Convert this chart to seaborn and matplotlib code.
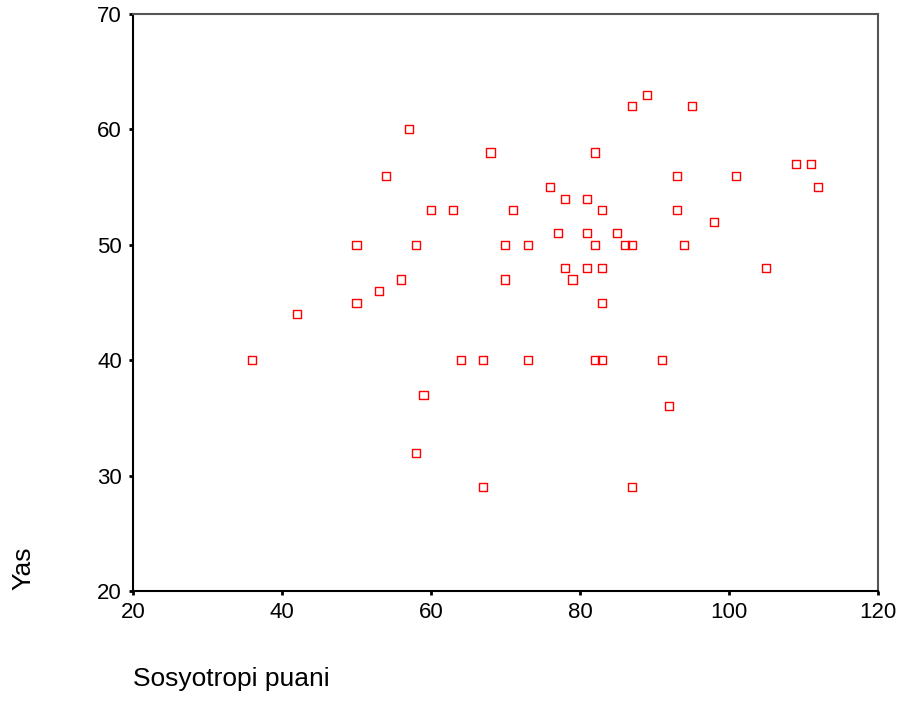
import pandas as pd
import matplotlib.pyplot as plt
import seaborn as sns

# Sosyotropi puani (x) ve Yas (y)
sosyotropi = [36, 42, 50, 50, 53, 54, 56, 57, 58, 58, 59, 60, 63, 64, 67, 67,
              68, 70, 70, 71, 73, 73, 76, 77, 78, 78, 79, 81, 81, 81, 82, 82,
              82, 83, 83, 83, 83, 85, 86, 87, 87, 87, 89, 91, 92, 93, 93, 94,
              95, 98, 101, 105, 109, 111, 112]
yas = [40, 44, 50, 45, 46, 56, 47, 60, 50, 32, 37, 53, 53, 40, 40, 29,
       58, 50, 47, 53, 50, 40, 55, 51, 54, 48, 47, 54, 51, 48, 58, 50,
       40, 53, 48, 45, 40, 51, 50, 50, 62, 29, 63, 40, 36, 56, 53, 50,
       62, 52, 56, 48, 57, 57, 55]

df = pd.DataFrame({"Sosyotropi puani": sosyotropi, "Yas": yas})

sns.set_style("white")
plt.rcParams['font.family'] = ['Liberation Sans', 'DejaVu Sans']
plt.rcParams['text.color'] = 'black'
plt.rcParams['axes.labelcolor'] = 'black'

fig = plt.figure(figsize=(9.05, 7.02), dpi=100)
ax = fig.add_axes([0.147, 0.158, 0.823, 0.822])

sns.scatterplot(data=df, x="Sosyotropi puani", y="Yas", ax=ax,
                marker="s", s=34, facecolor="none", edgecolor="#ff0000",
                linewidth=1.0)

ax.set_xlim(20, 120)
ax.set_ylim(20, 70)
ax.set_xticks([20, 40, 60, 80, 100, 120])
ax.set_yticks([20, 30, 40, 50, 60, 70])
ax.tick_params(axis="both", direction="out", length=3, width=2,
               labelsize=16, color="black", labelcolor="black",
               left=True, bottom=True, pad=5)

for side in ["left", "bottom"]:
    ax.spines[side].set_color("black")
    ax.spines[side].set_linewidth(1.5)
for side in ["top", "right"]:
    ax.spines[side].set_color("#555555")
    ax.spines[side].set_linewidth(1.5)

ax.set_xlabel("Sosyotropi puani", fontsize=19, ha="left", color="black")
ax.xaxis.set_label_coords(0.0, -0.132)
ax.set_ylabel("Yas", fontsize=19, color="black")
ax.yaxis.set_label_coords(-0.131, 0.04)

fig.savefig("out.png", dpi=100)
